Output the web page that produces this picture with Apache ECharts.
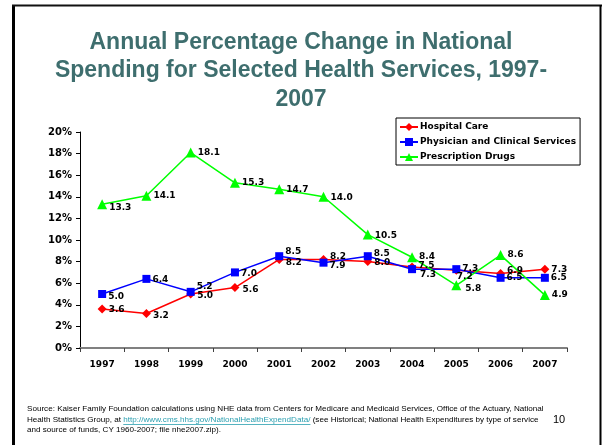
<!DOCTYPE html>
<html>
<head>
<meta charset="utf-8">
<script src="https://cdn.jsdelivr.net/npm/echarts@6/dist/echarts.min.js"></script>
<style>
  html, body { margin: 0; padding: 0; background: #fff; }
  #chart { width: 602px; height: 445px; }
</style>
</head>
<body>
<div id="chart"></div>
<script>
// ---- data ----
const years = ['1997', '1998', '1999', '2000', '2001', '2002', '2003', '2004', '2005', '2006', '2007'];
const hospitalCare = [3.6, 3.2, 5.0, 5.6, 8.2, 8.2, 8.0, 7.5, 7.2, 6.9, 7.3];
const physicianServices = [5.0, 6.4, 5.2, 7.0, 8.5, 7.9, 8.5, 7.3, 7.3, 6.5, 6.5];
const prescriptionDrugs = [13.3, 14.1, 18.1, 15.3, 14.7, 14.0, 10.5, 8.4, 5.8, 8.6, 4.9];
const yMin = 0;
const yMax = 20;
const yStep = 2;

// ---- label nudges [dx, dy] so overlapping value labels stay readable ----
const nudges = {
  hospital:  [[0, 1], [0, 2], [0, 2], [1, 2], [0, 3], [0, -3], [0, 1], [0, -1], [-6, 6], [0, -3], [0, 0]],
  physician: [[0, 3], [0, 1], [0, -5], [0, 1], [0, -5], [0, 3], [0, -3], [2, 5], [0, -1], [0, 0], [0, 0]],
  drugs:     [[0, 3], [0, 0], [0, 0], [0, 0], [0, 0], [0, 1], [0, 1], [0, -1], [2, 3], [0, 0], [0, 0]]
};

const boldFont = 'DejaVu Sans';
const srcFontFamily = 'Liberation Sans';
const srcFontSize = 8.1;

function withLabels(values, nudge) {
  return values.map((v, i) => ({
    value: v,
    label: { offset: nudge[i] }
  }));
}

function lineSeries(name, values, nudge, color, symbol, size) {
  return {
    name: name,
    type: 'line',
    data: withLabels(values, nudge),
    symbol: symbol,
    symbolSize: size,
    showAllSymbol: true,
    lineStyle: { color: color, width: 1.5 },
    itemStyle: { color: color },
    emphasis: { disabled: true },
    label: {
      show: true,
      position: 'right',
      distance: 2,
      color: '#000',
      fontFamily: boldFont,
      fontWeight: 'bold',
      fontSize: 9,
      formatter: p => Number(p.value).toFixed(1)
    }
  };
}

// ---- source note ----
const srcLine1 = 'Source: Kaiser Family Foundation calculations using NHE data from Centers for Medicare and Medicaid Services, Office of the Actuary, National';
const srcLine2a = 'Health Statistics Group, at ';
const srcUrl = 'http://www.cms.hhs.gov/NationalHealthExpendData/';
const srcLine2b = ' (see Historical; National Health Expenditures by type of service';
const srcLine3 = 'and source of funds, CY 1960-2007; file nhe2007.zip).';
const pageNumber = '10';

const measureCtx = document.createElement('canvas').getContext('2d');
measureCtx.font = srcFontSize + 'px "' + srcFontFamily + '"';
const wA = measureCtx.measureText(srcLine2a).width;
const wUrl = measureCtx.measureText(srcUrl).width;

const srcX = 27;
const srcStyle = { fontFamily: srcFontFamily, fontSize: srcFontSize, fill: '#000', verticalAlign: 'middle' };

const chart = echarts.init(document.getElementById('chart'), null, { renderer: 'canvas' });

chart.setOption({
  animation: false,
  backgroundColor: '#fff',
  title: {
    text: 'Annual Percentage Change in National\nSpending for Selected Health Services, 1997-\n2007',
    left: 'center',
    top: 23,
    padding: [5, 0, 5, 14],
    textStyle: {
      fontFamily: 'Liberation Sans',
      fontWeight: 'bold',
      fontSize: 23,
      lineHeight: 28.5,
      color: '#3e6e6e'
    }
  },
  legend: {
    orient: 'vertical',
    left: 396,
    top: 118,
    padding: [4, 4, 3, 3],
    itemGap: 5,
    itemWidth: 18,
    itemHeight: 10,
    backgroundColor: '#fff',
    borderColor: '#000',
    borderWidth: 1,
    borderRadius: 0,
    selectedMode: false,
    textStyle: {
      fontFamily: boldFont,
      fontWeight: 'bold',
      fontSize: 9,
      lineHeight: 10,
      color: '#000',
      padding: [0, 0, 0, -3]
    },
    data: ['Hospital Care', 'Physician and Clinical Services', 'Prescription Drugs']
  },
  grid: { left: 80, right: 35, top: 132, bottom: 97, containLabel: false },
  xAxis: {
    type: 'category',
    data: years,
    boundaryGap: true,
    axisLine: { lineStyle: { color: '#808080', width: 2 } },
    axisTick: { show: true, length: 4, lineStyle: { color: '#404040', width: 1 } },
    axisLabel: {
      margin: 12,
      color: '#000',
      fontFamily: boldFont,
      fontWeight: 'bold',
      fontSize: 9
    },
    splitLine: { show: false }
  },
  yAxis: {
    type: 'value',
    min: yMin,
    max: yMax,
    interval: yStep,
    axisLine: { show: true, lineStyle: { color: '#000', width: 1 } },
    axisTick: { show: true, length: 4, lineStyle: { color: '#000' } },
    axisLabel: {
      margin: 8,
      color: '#000',
      fontFamily: boldFont,
      fontWeight: 'bold',
      fontSize: 10,
      formatter: '{value}%'
    },
    splitLine: { show: false }
  },
  series: [
    lineSeries('Hospital Care', hospitalCare, nudges.hospital, '#ff0000', 'diamond', 9),
    lineSeries('Physician and Clinical Services', physicianServices, nudges.physician, '#0000ff', 'rect', 8),
    lineSeries('Prescription Drugs', prescriptionDrugs, nudges.drugs, '#00ff00', 'triangle', 10)
  ],
  graphic: [
    // slide frame
    { type: 'line', silent: true, shape: { x1: 13.5, y1: 5, x2: 13.5, y2: 445 }, style: { stroke: '#000', lineWidth: 3 } },
    { type: 'line', silent: true, shape: { x1: 12, y1: 5.5, x2: 602, y2: 5.5 }, style: { stroke: '#111', lineWidth: 2 } },
    { type: 'line', silent: true, shape: { x1: 600.5, y1: 5, x2: 600.5, y2: 445 }, style: { stroke: '#000', lineWidth: 2 } },
    // source note
    { type: 'text', silent: true, x: srcX, y: 409, style: Object.assign({ text: srcLine1 }, srcStyle) },
    { type: 'text', silent: true, x: srcX, y: 419.5, style: Object.assign({ text: srcLine2a }, srcStyle) },
    { type: 'text', silent: true, x: srcX + wA, y: 419.5, style: Object.assign({}, srcStyle, { text: srcUrl, fill: '#2a9fb0' }) },
    { type: 'line', silent: true, shape: { x1: srcX + wA, y1: 424.5, x2: srcX + wA + wUrl, y2: 424.5 }, style: { stroke: '#2a9fb0', lineWidth: 0.8 } },
    { type: 'text', silent: true, x: srcX + wA + wUrl, y: 419.5, style: Object.assign({ text: srcLine2b }, srcStyle) },
    { type: 'text', silent: true, x: srcX, y: 430, style: Object.assign({ text: srcLine3 }, srcStyle) },
    { type: 'text', silent: true, x: 553, y: 420, style: { text: pageNumber, fontFamily: 'Liberation Sans', fontSize: 11, fill: '#000', verticalAlign: 'middle' } }
  ]
});
</script>
</body>
</html>
